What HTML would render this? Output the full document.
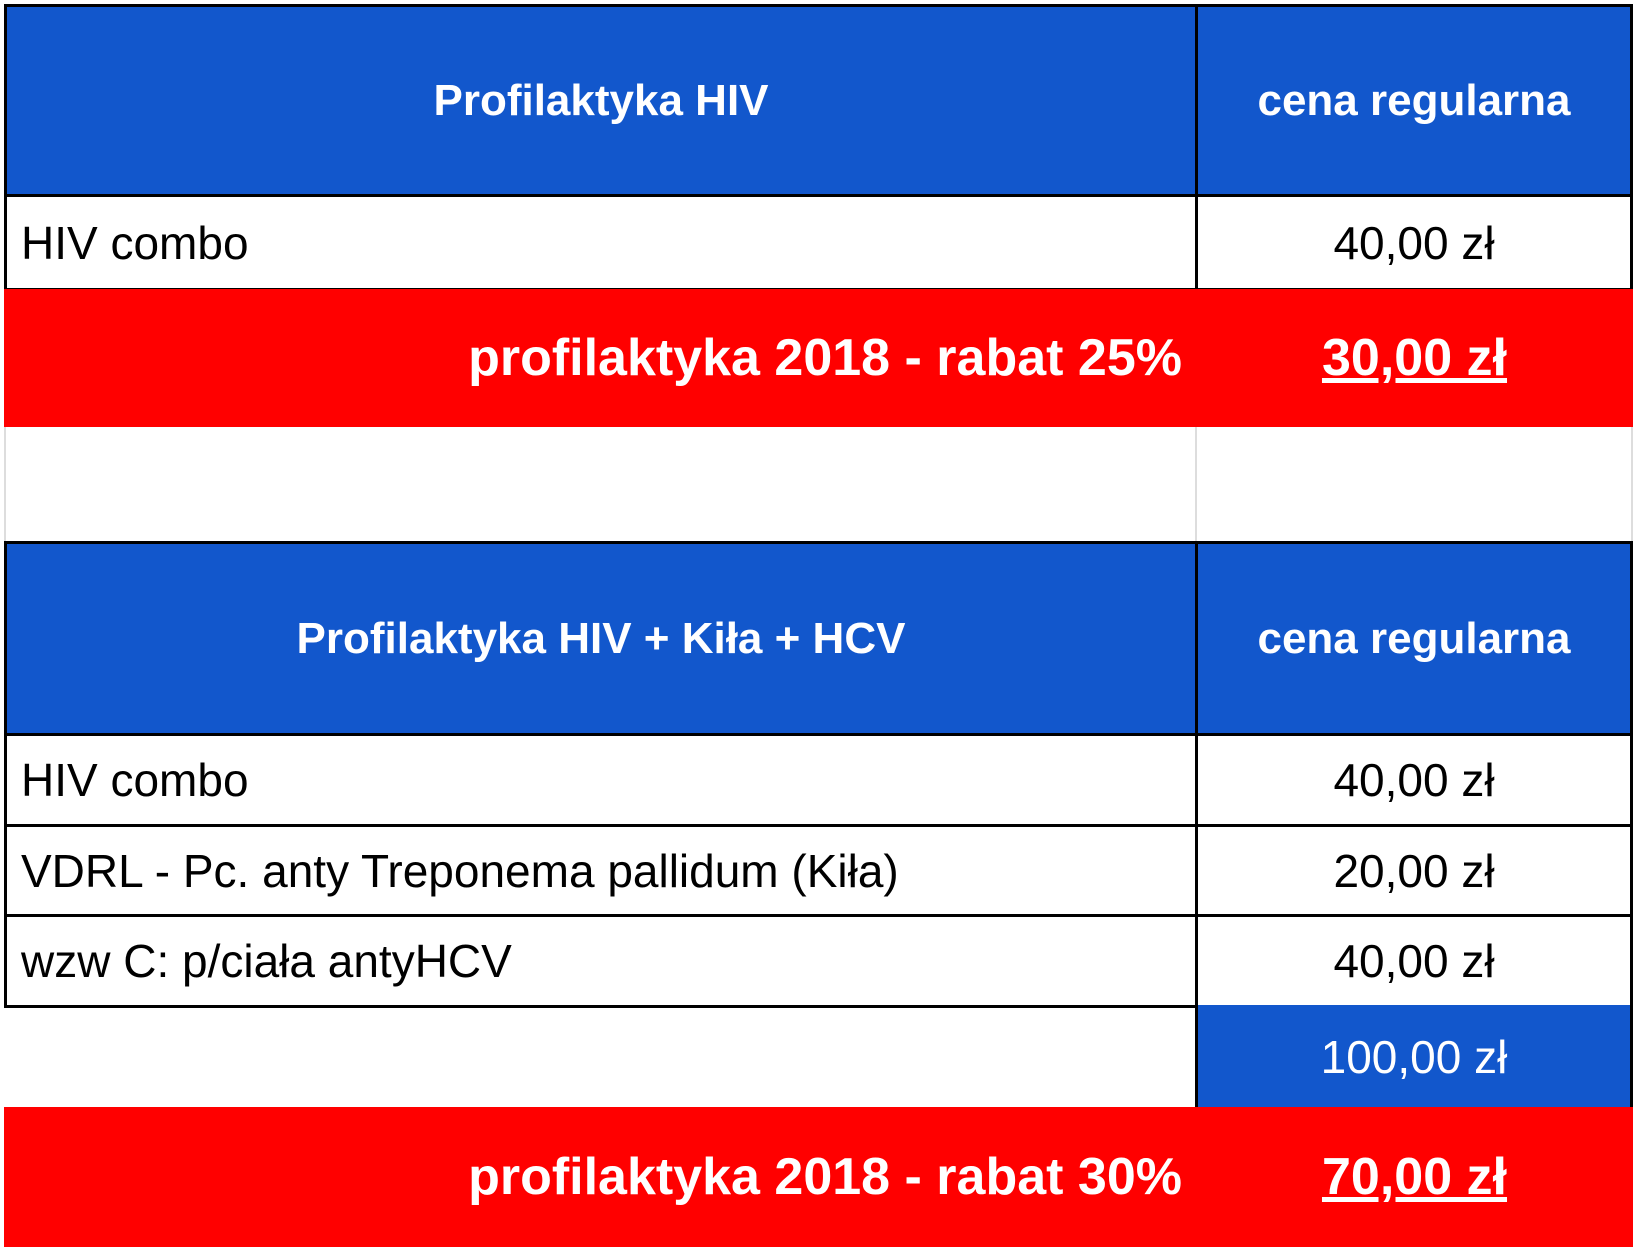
<!DOCTYPE html>
<html><head><meta charset="utf-8"><style>
body{margin:0;width:1635px;height:1247px;background:#fff;position:relative;overflow:hidden;font-family:"Liberation Sans",Arial,sans-serif}
.c{position:absolute;box-sizing:border-box;display:flex;align-items:center}
.blue{background:#1257cc;color:#fff;font-weight:bold;font-size:44px;justify-content:center}
.w{background:#fff;color:#000;font-size:46px;border:3px solid #000}
.red{background:#ff0000;color:#fff;font-weight:bold;font-size:52px}
.hl{position:absolute;background:#000}
</style></head><body>
<div class="c blue" style="left:4px;top:4px;width:1194px;height:193px;border:3px solid #000">Profilaktyka HIV</div>
<div class="c blue" style="left:1195px;top:4px;width:438px;height:193px;border:3px solid #000">cena regularna</div>
<div class="c w" style="left:4px;top:194px;width:1194px;height:97px;padding-left:14px">HIV combo</div>
<div class="c w" style="left:1195px;top:194px;width:438px;height:97px;justify-content:center">40,00 zł</div>
<div class="c red" style="left:4px;top:289px;width:1194px;height:138px;justify-content:flex-end;padding-right:16px">profilaktyka 2018 - rabat 25%</div>
<div class="c red" style="left:1196px;top:289px;width:437px;height:138px;justify-content:center;text-decoration:underline">30,00 zł</div>
<div class="hl" style="left:4px;top:427px;width:2px;height:115px;background:#ddd"></div>
<div class="hl" style="left:1195px;top:427px;width:2px;height:115px;background:#ddd"></div>
<div class="hl" style="left:1631px;top:427px;width:2px;height:115px;background:#ddd"></div>
<div class="c blue" style="left:4px;top:541px;width:1194px;height:195px;border:3px solid #000">Profilaktyka HIV + Kiła + HCV</div>
<div class="c blue" style="left:1195px;top:541px;width:438px;height:195px;border:3px solid #000">cena regularna</div>
<div class="c w" style="left:4px;top:733px;width:1194px;height:94px;padding-left:14px">HIV combo</div>
<div class="c w" style="left:1195px;top:733px;width:438px;height:94px;justify-content:center">40,00 zł</div>
<div class="c w" style="left:4px;top:824px;width:1194px;height:93px;padding-left:14px">VDRL - Pc. anty Treponema pallidum (Kiła)</div>
<div class="c w" style="left:1195px;top:824px;width:438px;height:93px;justify-content:center">20,00 zł</div>
<div class="c w" style="left:4px;top:914px;width:1194px;height:94px;padding-left:14px">wzw C: p/ciała antyHCV</div>
<div class="c w" style="left:1195px;top:914px;width:438px;height:94px;justify-content:center">40,00 zł</div>
<div class="c blue" style="left:1195px;top:1005px;width:438px;height:103px;border-left:3px solid #000;border-right:3px solid #000;font-weight:normal;font-size:46px">100,00 zł</div>
<div class="c red" style="left:4px;top:1107px;width:1194px;height:140px;justify-content:flex-end;padding-right:16px">profilaktyka 2018 - rabat 30%</div>
<div class="c red" style="left:1196px;top:1107px;width:437px;height:140px;justify-content:center;text-decoration:underline">70,00 zł</div>
</body></html>
